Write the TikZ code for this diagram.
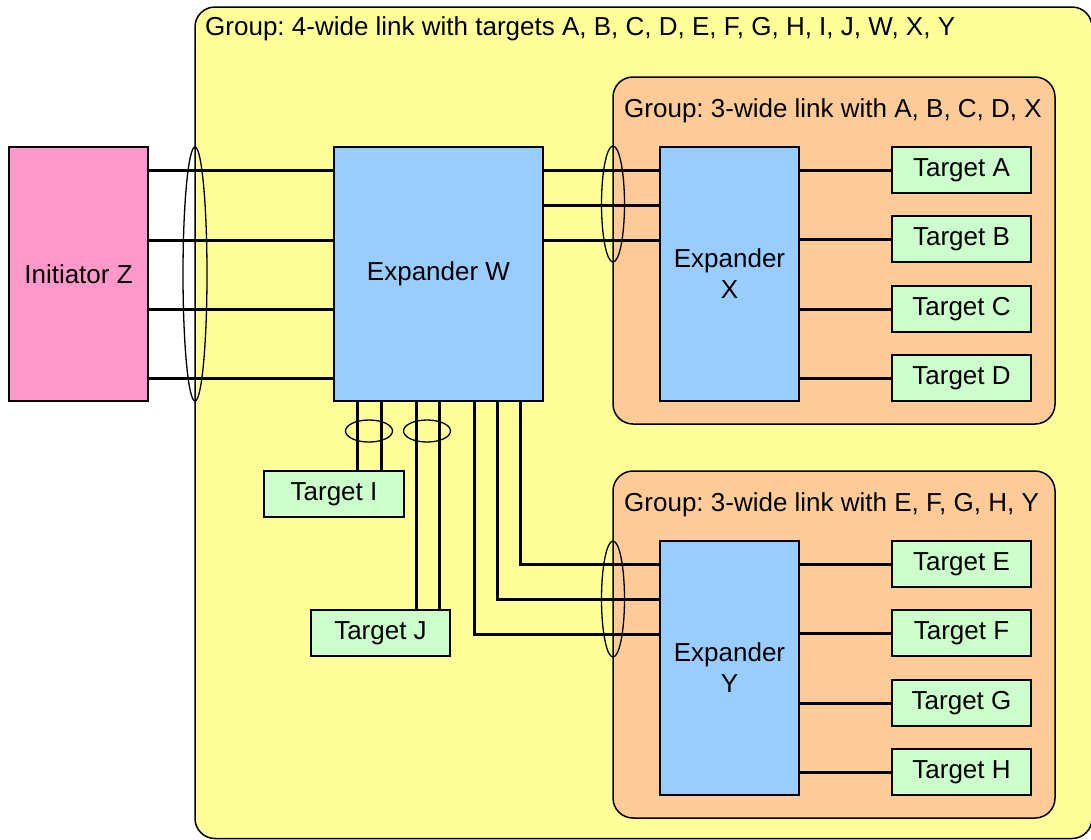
\documentclass[tikz,border=0pt]{standalone}
\usepackage{fontspec}
\setmainfont{Liberation Sans}
\frenchspacing
\definecolor{grpyellow}{HTML}{FFFF99}
\definecolor{grporange}{HTML}{FFCC99}
\definecolor{expblue}{HTML}{99CCFF}
\definecolor{tgtgreen}{HTML}{CCFFCC}
\definecolor{initpink}{HTML}{FF99CC}
\begin{document}
\begin{tikzpicture}[x=1pt,y=-1pt,
  txt/.style={font=\fontsize{26}{31}\selectfont, text=black},
  box/.style={txt, draw=black, line width=1.5pt, inner sep=0pt, align=center},
  bigbox/.style={box, minimum width=139pt, minimum height=254pt},
  tgt/.style={box, fill=tgtgreen, minimum width=139pt, minimum height=46pt},
  group/.style={draw=black, line width=1.5pt, rounded corners=20pt},
  wire/.style={draw=black, line width=3pt},
  ring/.style={draw=black, line width=1.3pt},
  title/.style={txt, anchor=west, inner sep=0pt}
]
\useasboundingbox (0,0) rectangle (1091,839);
\begin{scope}
\clip (0,0) rectangle (1091,839);
% outer group
\path[group, fill=grpyellow] (195,7) rectangle (1092,838.5);
\node[title] (tOuter) at (205,29) {Group: 4-wide link with targets A, B, C, D, E, F, G, H, I, J, W, X, Y};
% inner groups
\path[group, fill=grporange] (613,77) rectangle (1055,424);
\node[title] (tGX) at (624,111) {Group: 3-wide link with A, B, C, D, X};
\path[group, fill=grporange] (613,471) rectangle (1055,818);
\node[title] (tGY) at (624,505) {Group: 3-wide link with E, F, G, H, Y};

% main boxes
\node[bigbox, fill=initpink] (Z) at (78.5,274) {Initiator Z};
\node[bigbox, fill=expblue, minimum width=209pt] (W) at (438.5,274) {Expander W};
\node[bigbox, fill=expblue] (X) at (729.5,274) {Expander\\X};
\node[bigbox, fill=expblue] (Y) at (729.5,668) {Expander\\Y};

% targets
\node[tgt] (A) at (961.5,170) {Target A};
\node[tgt] (B) at (961.5,239) {Target B};
\node[tgt] (C) at (961.5,309) {Target C};
\node[tgt] (D) at (961.5,378) {Target D};
\node[tgt] (E) at (961.5,564) {Target E};
\node[tgt] (F) at (961.5,633) {Target F};
\node[tgt] (G) at (961.5,703) {Target G};
\node[tgt] (H) at (961.5,772) {Target H};
\node[tgt, minimum width=140pt] (I) at (334,494) {Target I};
\node[tgt] (J) at (380.5,633) {Target J};

% Z to W
\foreach \yy in {170,240,309,378}
  \draw[wire] (Z.east |- 0,\yy) -- (W.west |- 0,\yy);
% W to X
\foreach \yy in {170,205,240}
  \draw[wire] (W.east |- 0,\yy) -- (X.west |- 0,\yy);
% X to targets
\foreach \t in {A,B,C,D}
  \draw[wire] (X.east |- \t.west) -- (\t.west);
% Y to targets
\foreach \t in {E,F,G,H}
  \draw[wire] (Y.east |- \t.west) -- (\t.west);
% W to I and J
\foreach \xx in {357,381}
  \draw[wire] (W.south -| \xx,0) -- (I.north -| \xx,0);
\foreach \xx in {416,439}
  \draw[wire] (W.south -| \xx,0) -- (J.north -| \xx,0);
% W to Y
\draw[wire] (W.south -| 520,0) |- (Y.west |- 0,564);
\draw[wire] (W.south -| 497,0) |- (Y.west |- 0,599);
\draw[wire] (W.south -| 474,0) |- (Y.west |- 0,634);

% link rings
\draw[ring] (195,274) ellipse [x radius=12pt, y radius=127pt];
\draw[ring] (613,204) ellipse [x radius=11.5pt, y radius=58pt];
\draw[ring] (613,599) ellipse [x radius=11.5pt, y radius=58pt];
\draw[ring] (369,431) ellipse [x radius=23.5pt, y radius=11pt];
\draw[ring] (427,431) ellipse [x radius=23.5pt, y radius=11pt];
\end{scope}
\end{tikzpicture}
\end{document}
